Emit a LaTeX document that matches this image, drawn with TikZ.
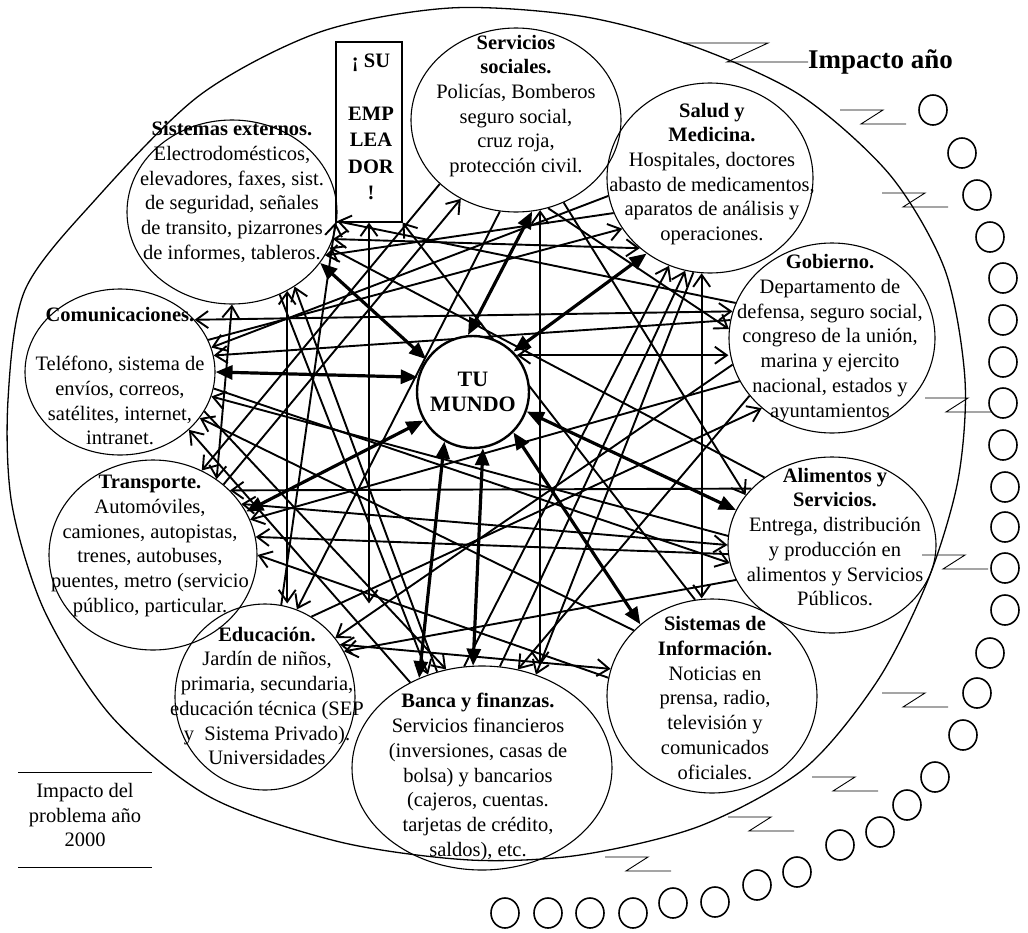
\documentclass[tikz,border=0pt]{standalone}
\usepackage{fontspec}
\setmainfont{Liberation Serif}
\usetikzlibrary{arrows.meta,shapes.geometric,backgrounds}

\begin{document}
\begin{tikzpicture}[x=1pt,y=-1pt,
    txt/.style={align=center,inner sep=0pt,font=\fontsize{20.5}{24.7}\selectfont},
    area/.style={draw,ellipse,line width=1.1pt,inner sep=0pt},
    hub/.style={draw,circle,line width=2.4pt,fill=white,minimum size=112pt,inner sep=0pt,align=center,font=\fontsize{22}{25}\selectfont\bfseries},
    link/.style={line width=1.9pt,-{Straight Barb[length=12pt,width=17pt]}},
    links/.style={line width=1.9pt,{Straight Barb[length=12pt,width=17pt]}-{Straight Barb[length=12pt,width=17pt]}},
    bold link/.style={line width=3.2pt,{Triangle[length=17pt,width=14pt]}-{Triangle[length=17pt,width=14pt]}},
    rim/.style={line width=1.3pt},
    zig/.style={line width=0.9pt},
    bead/.style={line width=1.6pt}]
    \useasboundingbox (0,0) rectangle (1028,932);

    % outer boundary
    \draw[rim] plot[smooth cycle] coordinates {(450,8) (580,16) (690,45) (800,95) (890,175) (945,270) (965,380) (958,480) (928,580) (878,680) (805,768) (700,826) (580,855) (470,860) (340,842) (210,797) (112,717) (45,612) (12,505) (8,400) (25,290) (95,200) (200,95) (320,32)};

    % areas
    \node[area,minimum width=210pt,minimum height=184pt] (serv) at (516,120) {};
    \node[txt] (servT) at (516,106) {\textbf{Servicios}\\\textbf{sociales.}\\Policías, Bomberos\\seguro social,\\cruz roja,\\protección civil.};

    \node[area,minimum width=206pt,minimum height=190pt] (sal) at (710,178) {};
    \node[txt] (salT) at (712,174) {\textbf{Salud y}\\\textbf{Medicina.}\\Hospitales, doctores\\abasto de medicamentos,\\aparatos de análisis y\\operaciones.};

    \node[area,minimum width=210pt,minimum height=184pt] (sext) at (232,212) {};
    \node[txt] (sextT) at (232,192) {\textbf{Sistemas externos.}\\Electrodomésticos,\\elevadores, faxes, sist.\\de seguridad, señales\\de transito, pizarrones\\de informes, tableros.};

    \node[area,minimum width=190pt,minimum height=166pt] (com) at (120,372) {};
    \node[txt] (comT) at (120,376) {\textbf{Comunicaciones.}\\[24.7pt]Teléfono, sistema de\\envíos, correos,\\satélites, internet,\\intranet.};

    \node[area,minimum width=206pt,minimum height=190pt] (gob) at (832,338) {};
    \node[txt] (gobT) at (830,338) {\textbf{Gobierno.}\\Departamento de\\defensa, seguro social,\\congreso de la unión,\\marina y ejercito\\nacional, estados y\\ayuntamientos};

    \node[area,minimum width=208pt,minimum height=190pt] (trans) at (153,555) {};
    \node[txt] (transT) at (150,546) {\textbf{Transporte.}\\Automóviles,\\camiones, autopistas,\\trenes, autobuses,\\puentes, metro (servicio\\público, particular.};

    \node[area,minimum width=208pt,minimum height=176pt] (ali) at (832,545) {};
    \node[txt] (aliT) at (835,537) {\textbf{Alimentos y}\\\textbf{Servicios.}\\Entrega, distribución\\y producción en\\alimentos y Servicios\\Públicos.};

    \node[area,minimum width=180pt,minimum height=186pt] (edu) at (265,697) {};
    \node[txt] (eduT) at (267,696) {\textbf{Educación.}\\Jardín de niños,\\primaria, secundaria,\\educación técnica (SEP\\y~ Sistema Privado).\\Universidades};

    \node[area,minimum width=260pt,minimum height=204pt] (ban) at (482,768) {};
    \node[txt] (banT) at (478,777) {\textbf{Banca y finanzas.}\\Servicios financieros\\(inversiones, casas de\\bolsa) y bancarios\\(cajeros, cuentas.\\tarjetas de crédito,\\saldos), etc.};

    \node[area,minimum width=210pt,minimum height=194pt] (inf) at (712,696) {};
    \node[txt] (infT) at (715,698) {\textbf{Sistemas de}\\\textbf{Información.}\\Noticias en\\prensa, radio,\\televisión y\\comunicados\\oficiales.};

    \node[draw,line width=1.1pt,minimum width=66pt,minimum height=180pt,inner sep=0pt] (boss) at (369,132) {};
    \node[txt,font=\fontsize{20.5}{26.5}\selectfont\bfseries] (bossT) at (371,127) {¡ SU\\[26.5pt]EMP\\LEA\\DOR\\!};

    \node[hub] (mundo) at (473,392) {TU\\MUNDO};

    % connections
    \begin{scope}[on background layer]
    \draw[links] (com.35) -- (gob.165);
    \draw[links] (sext.-15) -- (sal.225);
    \draw[links] (sext.south) -- (trans.50);
    \draw[links] (sext.-55) -- (sext.-55 |- edu.north);
    \draw[links] (boss.south) -- (boss.south |- edu.north);
    \draw[links] (serv.-75) -- (serv.-75 |- ban.north);
    \draw[links] (sal.-95) -- (sal.-95 |- inf.north);
    \draw[links] (mundo.40) -- (mundo.40 -| gob.west);
    \draw[links] (trans.30) -- (ali.180);
    \draw[links] (edu.35) -- (inf.165);

    \draw[link] (serv.-70) -- (gob.175);
    \draw[link] (serv.-60) -- (ali.150);
    \draw[link] (serv.-140) -- (trans.60);
    \draw[link] (serv.-100) -- (edu.70);
    \draw[link] (sal.-160) -- (sext.-25);
    \draw[link] (sal.-170) -- (com.15);
    \draw[link] (sal.-100) -- (ban.60);
    \draw[link] (gob.215) -- (ban.70);
    \draw[link] (gob.195) -- (edu.40);
    \draw[link] (gob.205) -- (trans.20);
    \draw[link] (gob.160) -- (sext.-5);
    \draw[link] (ali.135) -- (sext.-20);
    \draw[link] (ali.200) -- (edu.30);
    \draw[link] (ali.185) -- (trans.10);
    \draw[link] (ali.145) -- (trans.40);
    \draw[link] (inf.140) -- (com.-30);
    \draw[link] (inf.170) -- (trans.0);
    \draw[link] (ban.130) -- (com.-40);
    \draw[link] (ban.100) -- (sal.-115);
    \draw[link] (ban.80) -- (sal.-105);
    \draw[link] (ban.115) -- (sext.-50);
    \draw[link] (edu.80) -- (boss.south west);
    \draw[link] (edu.60) -- (gob.225);
    \draw[link] (trans.45) -- (serv.-125);
    \draw[link] (com.20) -- (sal.-150);
    \draw[link] (inf.100) -- (boss.south east);
    \draw[link] (gob.170) -- (com.10);
    \draw[link] (ali.175) -- (com.-15);
    \draw[link] (com.-25) -- (ban.110);
    \draw[link] (sext.-60) -- (ban.120);
    \draw[link] (com.-10) -- (ali.190);

    \draw[bold link] (com.east) -- (mundo.165);
    \draw[bold link] (sext.-30) -- (mundo.145);
    \draw[bold link] (serv.-80) -- (mundo.95);
    \draw[bold link] (sal.-130) -- (mundo.45);
    \draw[bold link] (ali.160) -- (mundo.-20);
    \draw[bold link] (mundo.-80) -- (ban.95);
    \draw[bold link] (mundo.-120) -- (ban.125);
    \draw[bold link] (mundo.-150) -- (trans.25);
    \draw[bold link] (mundo.-45) -- (inf.135);
    \end{scope}

    % impact chain
    \node[anchor=west,inner sep=0pt,font=\fontsize{27}{30}\selectfont\bfseries] (title) at (808,62) {Impacto año};
    \draw[zig] (683,43) -- (768,43) -- (727,62) -- (title.west);
    \foreach \x/\y in {840/110, 882/193, 925/398, 922/555, 882/693, 812/777, 728/817, 605/857}
        \draw[zig] (\x,\y) -- ++(43,0) -- ++(-22,14) -- ++(45,0);
    \foreach \x/\y in {933/110, 962/153, 977/195, 990/237, 1003/278, 1003/320, 1003/362, 1003/403, 1003/445, 1005/487, 1005/527, 1005/568, 1005/610, 990/653, 977/693, 963/735, 935/777, 907/805, 880/832, 840/845, 797/872, 757/885, 715/902, 673/903, 633/913, 590/913, 548/913, 505/913}
        \draw[bead] (\x,\y) ellipse[x radius=14pt,y radius=15pt];

    % year 2000 label
    \node[txt] (yk) at (85,815) {Impacto del\\problema año\\2000};
    \draw[zig] (18,772) -- (152,772);
    \draw[zig] (18,867) -- (152,867);
\end{tikzpicture}
\end{document}
